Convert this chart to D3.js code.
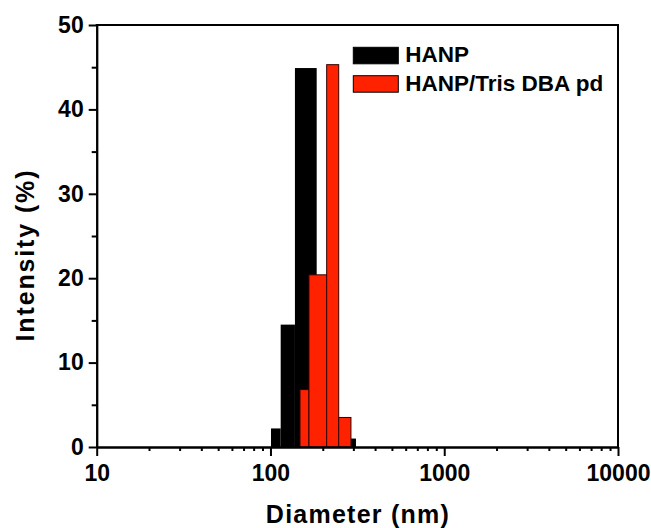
<!DOCTYPE html>
<html>
<head>
<meta charset="utf-8">
<script src="https://cdn.jsdelivr.net/npm/d3@7"></script>
<style>
  body { margin: 0; background: #fff; }
  text { font-family: "Liberation Sans", Arial, sans-serif; font-weight: bold; }
</style>
</head>
<body>
<div id="chart"></div>
<script>
// bin edges (nm) and intensity (%)
const hanpLo  = [100.7, 114.5, 138.3, 290.5];
const hanpHi  = [114.5, 138.3, 184.5, 310.5];
const hanpVal = [2.2, 14.5, 44.9, 1.0];

const trisLo  = [147.9, 166.5, 210.6, 247];
const trisHi  = [166.5, 210.6, 247, 290.5];
const trisVal = [6.8, 20.4, 45.3, 3.5];

const xMajor = [10, 100, 1000, 10000];
const yMajor = [0, 10, 20, 30, 40, 50];
const yMinor = [5, 15, 25, 35, 45];
const seriesNames = ["HANP", "HANP/Tris DBA pd"];

const width = 651, height = 528;
const mLeft = 96.7, mRight = 618, mTop = 25, mBottom = 447;

const x = d3.scaleLog().domain([10, 10000]).range([mLeft, mRight]);
const y = d3.scaleLinear().domain([0, 50]).range([mBottom, mTop]);

const xMinor = [];
[10, 100, 1000].forEach(d => { for (let k = 2; k <= 9; k++) xMinor.push(d * k); });

const svg = d3.select("#chart").append("svg")
  .attr("width", width)
  .attr("height", height);

// bars
const hanp = hanpVal.map((v, i) => ({lo: hanpLo[i], hi: hanpHi[i], v}));
const tris = trisVal.map((v, i) => ({lo: trisLo[i], hi: trisHi[i], v}));

svg.append("g").selectAll("rect")
  .data(hanp).enter().append("rect")
  .attr("x", d => x(d.lo))
  .attr("width", d => x(d.hi) - x(d.lo))
  .attr("y", d => y(d.v))
  .attr("height", d => y(0) - y(d.v))
  .attr("fill", "#000");

svg.append("g").selectAll("rect")
  .data(tris).enter().append("rect")
  .attr("x", d => x(d.lo))
  .attr("width", d => x(d.hi) - x(d.lo))
  .attr("y", d => y(d.v))
  .attr("height", d => y(0) - y(d.v))
  .attr("fill", "#ff2200")
  .attr("stroke", "#300")
  .attr("stroke-width", 1);

// axes
function styleAxis(g) {
  g.selectAll("line").attr("stroke", "#000").attr("stroke-width", 2);
  g.selectAll("path").attr("stroke", "#000").attr("stroke-width", 2);
  g.selectAll("text").attr("font-size", "23px").attr("fill", "#000");
}

svg.append("g")
  .attr("transform", `translate(0,${mBottom})`)
  .call(d3.axisBottom(x).tickValues(xMinor).tickSize(4).tickSizeOuter(0).tickFormat(""))
  .call(styleAxis);

svg.append("g")
  .attr("transform", `translate(0,${mBottom})`)
  .call(d3.axisBottom(x).tickValues(xMajor).tickSize(9).tickSizeOuter(0).tickPadding(9).tickFormat(d3.format("d")))
  .call(styleAxis);

svg.append("g")
  .attr("transform", `translate(${mLeft},0)`)
  .call(d3.axisLeft(y).tickValues(yMinor).tickSize(5).tickSizeOuter(0).tickFormat(""))
  .call(styleAxis);

svg.append("g")
  .attr("transform", `translate(${mLeft},0)`)
  .call(d3.axisLeft(y).tickValues(yMajor).tickSize(8).tickSizeOuter(0).tickPadding(5))
  .call(styleAxis);

// frame top and right
svg.append("line")
  .attr("x1", x(10) - 1).attr("x2", x(10000) + 1)
  .attr("y1", y(50)).attr("y2", y(50))
  .attr("stroke", "#000").attr("stroke-width", 2);
svg.append("line")
  .attr("x1", x(10000)).attr("x2", x(10000))
  .attr("y1", y(50)).attr("y2", y(0))
  .attr("stroke", "#000").attr("stroke-width", 2);

// axis titles
svg.append("text")
  .attr("x", (mLeft + mRight) / 2)
  .attr("y", 522.7)
  .attr("text-anchor", "middle")
  .attr("font-size", "25px")
  .attr("textLength", 183)
  .attr("lengthAdjust", "spacing")
  .text("Diameter (nm)");

svg.append("text")
  .attr("transform", `translate(34,256) rotate(-90)`)
  .attr("text-anchor", "middle")
  .attr("font-size", "25px")
  .attr("textLength", 171)
  .attr("lengthAdjust", "spacing")
  .text("Intensity (%)");

// legend
const legendColors = ["#000", "#ff2200"];
const legend = svg.append("g").selectAll("g")
  .data(seriesNames).enter().append("g")
  .attr("transform", (d, i) => `translate(353.3,${47.3 + i * 28.4})`);

legend.append("rect")
  .attr("width", 45)
  .attr("height", 16.5)
  .attr("fill", (d, i) => legendColors[i])
  .attr("stroke", "#000")
  .attr("stroke-width", 1);

legend.append("text")
  .attr("x", 52)
  .attr("y", 15)
  .attr("font-size", "22.5px")
  .attr("fill", "#000")
  .text(d => d);
</script>
</body>
</html>
